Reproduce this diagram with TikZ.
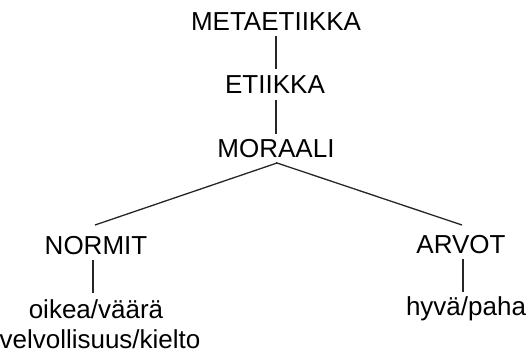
\documentclass[tikz,border=0pt]{standalone}
\usepackage{fontspec}
\setmainfont{Liberation Sans}
\begin{document}
\begin{tikzpicture}[x=1pt,y=-1pt,
  lbl/.style={font=\fontsize{26}{30}\selectfont, anchor=base, inner sep=0pt, outer sep=0pt},
  conn/.style={line width=1.3pt, black!85}]
\useasboundingbox (0,0) rectangle (528,354);
\node[lbl] (meta) at (276,30) {METAETIIKKA};
\node[lbl] (eti) at (275,93) {ETIIKKA};
\node[lbl] (mor) at (276,157) {MORAALI};
\node[lbl] (norm) at (96,254) {NORMIT};
\node[lbl] (arv) at (461,253) {ARVOT};
\node[lbl] (oik) at (96,318) {oikea/väärä};
\node[lbl] (vel) at (100,348) {velvollisuus/kielto};
\node[lbl] (hyv) at (466,315) {hyvä/paha};
\coordinate (apex) at (277,163);
\draw[conn] ([xshift=0pt,yshift=-6pt]meta.base) -- ([xshift=1pt,yshift=24pt]eti.base);
\draw[conn] ([xshift=1pt,yshift=-7pt]eti.base) -- ([yshift=23pt]mor.base);
\draw[conn] ([yshift=-6pt]mor.base) -- (apex);
\draw[conn] (apex) -- ([xshift=-1pt,yshift=29pt]norm.base);
\draw[conn] (apex) -- ([xshift=1pt,yshift=28pt]arv.base);
\draw[conn] ([xshift=-3pt,yshift=-6pt]norm.base) -- ([xshift=-3pt,yshift=25pt]oik.base);
\draw[conn] ([xshift=2pt,yshift=-6pt]arv.base) -- ([xshift=-3pt,yshift=23pt]hyv.base);
\end{tikzpicture}
\end{document}
